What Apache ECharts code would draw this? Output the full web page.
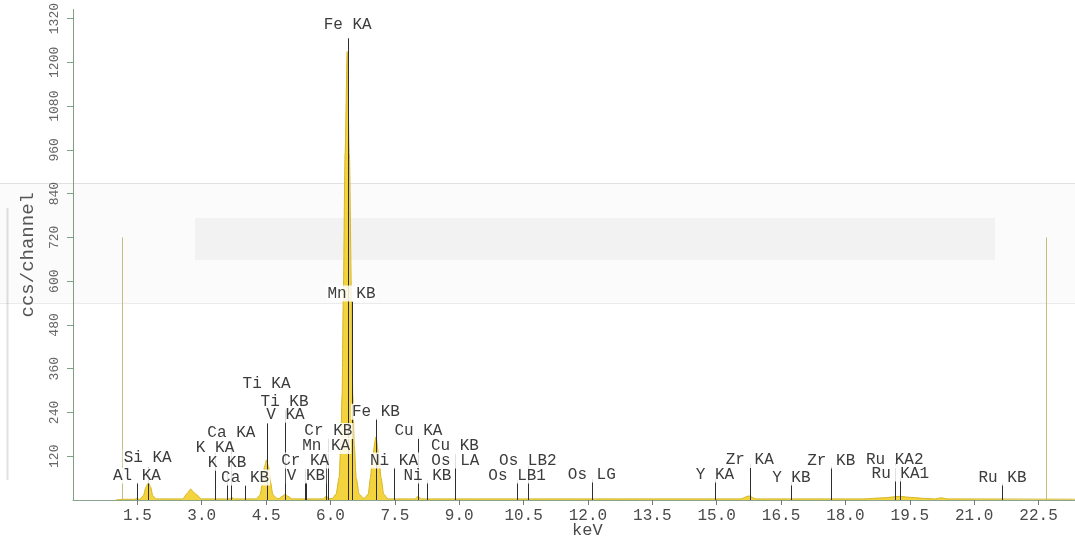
<!DOCTYPE html>
<html>
<head>
<meta charset="utf-8">
<title>EDS spectrum</title>
<script src="https://cdn.jsdelivr.net/npm/echarts@6/dist/echarts.min.js"></script>
<style>
  html, body { margin: 0; padding: 0; background: #fff; }
  #chart { width: 1075px; height: 545px; }
</style>
</head>
<body>
<div id="chart"></div>
<script>
// 能谱曲线 (keV / counts)
const spectrumEnergy = [
  1.00, 1.20, 1.44, 1.49, 1.53, 1.56, 1.64, 1.70, 1.76, 1.81, 1.86, 1.93,
  2.30, 2.56, 2.66, 2.74, 2.82, 2.89, 2.98, 3.40, 3.64, 3.70, 3.76,
  4.27, 4.36, 4.42, 4.46, 4.51, 4.56, 4.60, 4.66, 4.76, 4.80, 4.87, 4.94, 5.01, 5.10,
  5.50, 5.83, 5.90, 5.97, 6.04, 6.13, 6.20, 6.24, 6.27, 6.30, 6.34, 6.39, 6.44, 6.49,
  6.52, 6.555, 6.60, 6.67, 6.78, 6.88, 6.93, 6.98, 7.06, 7.13, 7.18, 7.24, 7.34,
  7.96, 8.04, 8.12, 9.00, 12.00, 15.55, 15.75, 15.92,
  18.40, 18.90, 19.25, 19.55, 19.90, 20.10, 20.22, 20.40, 23.35
];
const spectrumCounts = [
  0, 2, 2, 5, 2, 2, 12, 35, 49, 35, 12, 3,
  3, 3, 18, 30, 20, 14, 3, 3, 3, 7, 3,
  3, 14, 50, 90, 110, 90, 50, 14, 4, 4, 10, 16, 10, 3,
  3, 3, 11, 4, 4, 16, 60, 150, 287, 565, 950, 1230, 950, 565,
  287, 150, 60, 16, 4, 16, 60, 120, 173, 120, 60, 16, 3,
  3, 10, 3, 3, 3, 3, 11, 3,
  3, 6, 10, 7, 4, 3, 6, 3, 2
];

// 谱线标记
const markerLabels = [
  'Al KA', 'Si KA', 'K KA', 'K KB', 'Ca KA', 'Ca KB', 'Ti KA', 'Ti KB', 'V KA',
  'Cr KA', 'V KB', 'Mn KA', 'Cr KB', 'Fe KA', 'Mn KB', 'Fe KB', 'Ni KA', 'Cu KA',
  'Ni KB', 'Cu KB', 'Os LA', 'Os LB1', 'Os LB2', 'Os LG', 'Y KA', 'Zr KA', 'Y KB',
  'Zr KB', 'Ru KA2', 'Ru KA1', 'Ru KB'
];
const markerEnergy = [
  1.49, 1.74, 3.31, 3.59, 3.69, 4.01, 4.51, 4.93, 4.95,
  5.41, 5.43, 5.90, 5.95, 6.40, 6.49, 7.06, 7.48, 8.05,
  8.26, 8.90, 8.91, 10.35, 10.60, 12.09, 14.96, 15.77, 16.74,
  17.67, 19.15, 19.28, 21.66
];
// 标记线顶端高度
const markerTop = [
  48, 89, 129, 81, 162, 40, 210, 256, 215,
  86, 48, 127, 170, 1266, 544, 224, 89, 172,
  54, 129, 94, 54, 94, 57, 57, 100, 48,
  92, 102, 59, 46
];
// 标签所在高度
const markerLabelLevel = [
  67, 116, 143, 102, 183, 62, 320, 269, 234,
  108, 67, 148, 189, 1304, 566, 242, 108, 189,
  67, 148, 108, 67, 108, 70, 70, 110, 62,
  108, 110, 73, 62
];

// 两条区间光标
const cursorEnergy = [1.14, 22.68];
const cursorTop = 720;

const chart = echarts.init(document.getElementById('chart'));

const monoFont = '"Liberation Mono", "DejaVu Sans Mono", monospace';

const option = {
  animation: false,
  backgroundColor: '#ffffff',
  grid: { left: 73, right: 0, top: 0, bottom: 45 },
  graphic: [
    // 扫描件上的灰色痕迹
    { type: 'rect', z: -5, shape: { x: 0, y: 184, width: 1075, height: 119 }, style: { fill: 'rgba(0,0,0,0.015)' } },
    { type: 'rect', z: -5, shape: { x: 195, y: 218, width: 800, height: 42 }, style: { fill: 'rgba(0,0,0,0.035)' } },
    { type: 'line', z: -5, shape: { x1: 0, y1: 183.5, x2: 1075, y2: 183.5 }, style: { stroke: 'rgba(0,0,0,0.12)', lineWidth: 1 } },
    { type: 'line', z: -5, shape: { x1: 0, y1: 303.5, x2: 1075, y2: 303.5 }, style: { stroke: 'rgba(0,0,0,0.08)', lineWidth: 1 } },
    { type: 'line', z: -5, shape: { x1: 7.5, y1: 208, x2: 7.5, y2: 480 }, style: { stroke: 'rgba(0,0,0,0.12)', lineWidth: 2 } },
    {
      type: 'text', left: 572, top: 522,
      style: { text: 'keV', font: '17px ' + monoFont, fill: '#4a4a4a' }
    }
  ],
  xAxis: {
    type: 'value',
    min: 0,
    max: 23.35,
    interval: 1.5,
    splitLine: { show: false },
    axisLine: { lineStyle: { color: '#8aa58e', width: 1 } },
    axisTick: { show: true, length: 5, lineStyle: { color: '#777' } },
    axisLabel: {
      showMinLabel: false,
      showMaxLabel: false,
      margin: 8,
      color: '#4a4a4a',
      fontFamily: monoFont,
      fontSize: 16,
      formatter: v => v.toFixed(1)
    }
  },
  yAxis: {
    type: 'value',
    min: 0,
    max: 1345,
    interval: 120,
    name: 'ccs/channel',
    nameLocation: 'middle',
    nameRotate: 90,
    nameGap: 36,
    nameTextStyle: { fontFamily: monoFont, fontSize: 19, color: '#555' },
    splitLine: { show: false },
    axisLine: { show: true, lineStyle: { color: '#7da283', width: 1 } },
    axisTick: { show: true, length: 6, lineStyle: { color: '#7da283' } },
    axisLabel: {
      rotate: 90,
      margin: 12,
      align: 'center',
      verticalAlign: 'bottom',
      showMinLabel: false,
      showMaxLabel: false,
      color: '#666',
      fontFamily: monoFont,
      fontSize: 13,
      formatter: v => String(v)
    }
  },
  series: [
    {
      type: 'custom',
      name: 'cursor',
      z: 1,
      clip: false,
      data: cursorEnergy.map(e => [e, cursorTop]),
      encode: { x: 0, y: 1 },
      renderItem: function (params, api) {
        const p0 = api.coord([api.value(0), 0]);
        const p1 = api.coord([api.value(0), api.value(1)]);
        const x = Math.round(p0[0]) + 0.5;
        return {
          type: 'line',
          shape: { x1: x, y1: p0[1], x2: x, y2: p1[1] },
          style: { stroke: '#c2bf7c', lineWidth: 1 }
        };
      }
    },
    {
      type: 'line',
      name: 'spectrum',
      z: 2,
      data: spectrumEnergy.map((e, i) => [e, spectrumCounts[i]]),
      showSymbol: false,
      smooth: 0.25,
      smoothMonotone: 'x',
      lineStyle: { color: '#d6b526', width: 1 },
      areaStyle: { color: '#f3d43e', opacity: 1 }
    },
    {
      type: 'custom',
      name: 'markers',
      z: 3,
      clip: false,
      data: markerEnergy.map((e, i) => [e, markerTop[i], markerLabelLevel[i]]),
      encode: { x: 0, y: 1 },
      renderItem: function (params, api) {
        const e = api.value(0);
        const p0 = api.coord([e, 0]);
        const p1 = api.coord([e, api.value(1)]);
        const pl = api.coord([e, api.value(2)]);
        const x = Math.round(p0[0]) + 0.5;
        return {
          type: 'group',
          children: [
            {
              type: 'line',
              z2: 1,
              shape: { x1: x, y1: p0[1], x2: x, y2: p1[1] },
              style: { stroke: '#2e2e2e', lineWidth: 1 }
            },
            {
              type: 'text',
              z2: 10,
              x: pl[0],
              y: pl[1],
              style: {
                text: markerLabels[params.dataIndex],
                align: 'center',
                verticalAlign: 'middle',
                font: '16px ' + monoFont,
                fill: '#3c3c3c',
                backgroundColor: 'rgba(255,255,255,0.85)',
                padding: [0, 1]
              }
            }
          ]
        };
      }
    }
  ]
};

chart.setOption(option);
</script>
</body>
</html>
